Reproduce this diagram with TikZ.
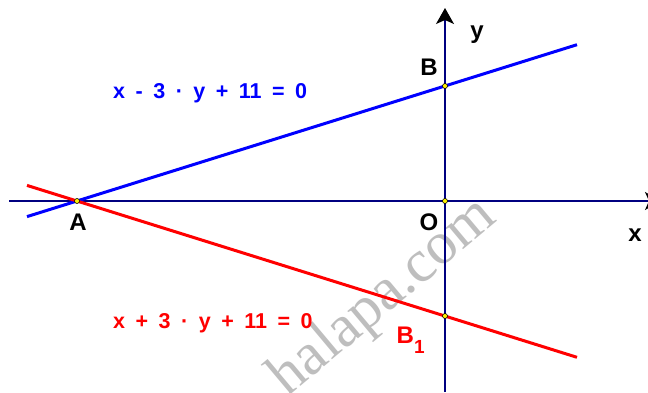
\documentclass[tikz,border=0pt]{standalone}
\usepackage{fontspec}
\setmainfont{Liberation Sans}
\newfontfamily\markfont{Liberation Serif}
\usetikzlibrary{positioning, arrows.meta}
\definecolor{axisblue}{RGB}{0,0,128}
\definecolor{markgray}{RGB}{190,190,190}
\newcommand\eqspaced{\spaceskip=10.5pt\relax}

\begin{document}
\begin{tikzpicture}[
        x=1pt, y=-1pt,
        axis/.style={draw=axisblue, line width=1.2pt, -{Stealth[length=16pt, width=18pt, inset=4pt, color=black]}},
        line/.style={line width=3pt},
        pt/.style={circle, draw=black, fill=yellow, line width=0.6pt, inner sep=0pt, minimum size=5pt},
        lbl/.style={font=\bfseries\fontsize{24}{24}\selectfont, inner sep=0pt, anchor=base},
        eq/.style={font=\bfseries\fontsize{21.5}{24}\selectfont, inner sep=0pt, anchor=base west}
    ]
    \useasboundingbox (0,0) rectangle (648,392);
    \clip (0,0) rectangle (648,392);

    % --- watermark ---
    \node[font=\markfont\fontsize{60}{60}\selectfont, text=markgray, rotate=40] (mark) at (384,298) {halapa.com};

    % --- axes ---
    \coordinate (xstart) at (9,201);
    \coordinate (xend) at (661,201);
    \coordinate (ystart) at (445,392);
    \coordinate (yend) at (445,8);
    \draw[axis] (xstart) -- (xend);
    \draw[axis] (ystart) -- (yend);

    % --- lines ---
    \coordinate (bl) at (27,216.6);
    \coordinate (br) at (577,44.7);
    \coordinate (rl) at (27,185.4);
    \coordinate (rr) at (577,357.3);
    \draw[line, blue] (bl) -- (br);
    \draw[line, red] (rl) -- (rr);

    % --- points ---
    \node[pt] (A) at (77,201) {};
    \node[pt] (O) at (445,201) {};
    \node[pt] (B) at (445,86) {};
    \node[pt] (B1) at (445,316) {};

    % --- labels ---
    \node[lbl] (labA) at (78,230.5) {A};
    \node[lbl] (labO) at (429,230) {O};
    \node[lbl] (labB) at (429,75.5) {B};
    \node[lbl, anchor=base west, text=red] (labB1) at (396.5,343) {B\raisebox{-10pt}{\fontsize{19}{19}\selectfont 1}};
    \node[lbl] (labx) at (635,241) {x};
    \node[lbl] (laby) at (477,38.5) {y};
    \node[eq, text=blue] (eqblue) at (113,98.3) {\eqspaced x - 3 · y + 11 = 0};
    \node[eq, text=red] (eqred) at (113,328.3) {\eqspaced x + 3 · y + 11 = 0};
\end{tikzpicture}
\end{document}
